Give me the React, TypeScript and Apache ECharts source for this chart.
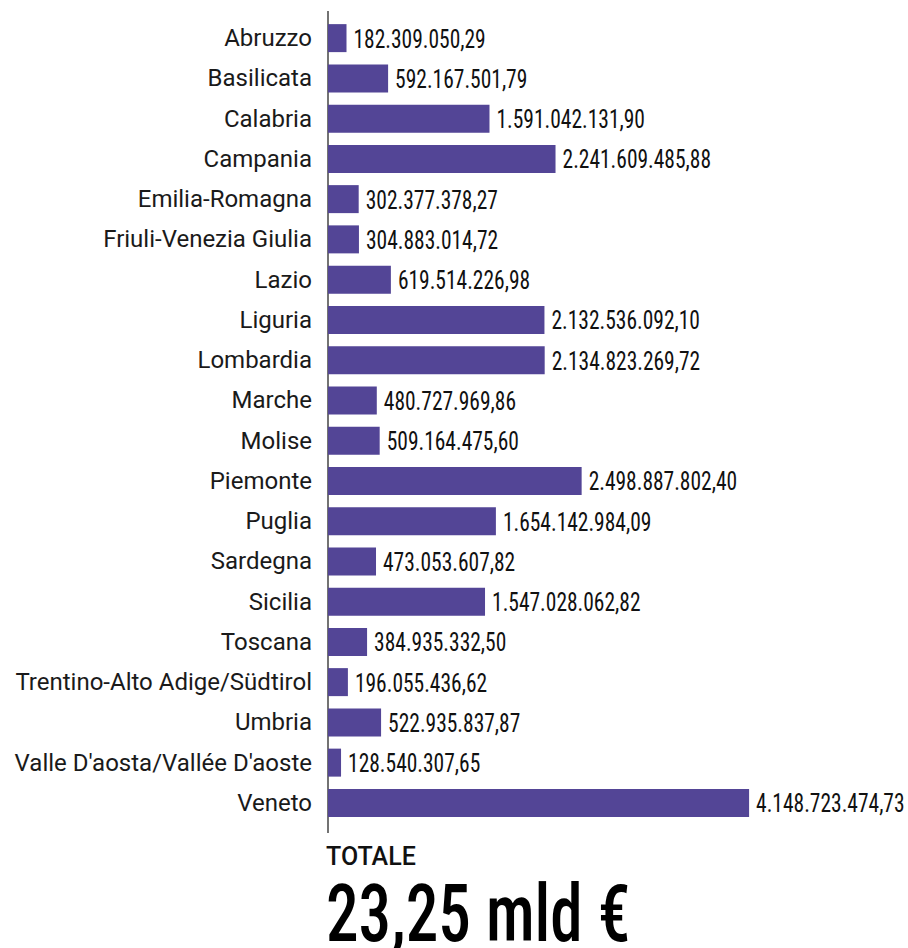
import React, { useEffect, useRef } from "react";
import * as echarts from "echarts";

const regions: string[] = [
  "Abruzzo",
  "Basilicata",
  "Calabria",
  "Campania",
  "Emilia-Romagna",
  "Friuli-Venezia Giulia",
  "Lazio",
  "Liguria",
  "Lombardia",
  "Marche",
  "Molise",
  "Piemonte",
  "Puglia",
  "Sardegna",
  "Sicilia",
  "Toscana",
  "Trentino-Alto Adige/Südtirol",
  "Umbria",
  "Valle D'aosta/Vallée D'aoste",
  "Veneto",
];

const amounts: number[] = [
  182309050.29,
  592167501.79,
  1591042131.9,
  2241609485.88,
  302377378.27,
  304883014.72,
  619514226.98,
  2132536092.1,
  2134823269.72,
  480727969.86,
  509164475.6,
  2498887802.4,
  1654142984.09,
  473053607.82,
  1547028062.82,
  384935332.5,
  196055436.62,
  522935837.87,
  128540307.65,
  4148723474.73,
];

const totalTitle = "TOTALE";
const totalValue = "23,25 mld €";

const condensed = "'Roboto Condensed', 'Liberation Sans Narrow', 'DejaVu Sans Condensed', sans-serif";

function formatIt(v: number): string {
  const fixed = v.toFixed(2);
  const [intPart, dec] = fixed.split(".");
  const withDots = intPart.replace(/\B(?=(\d{3})+(?!\d))/g, ".");
  return withDots + "," + dec;
}

export default function App() {
  const ref = useRef<HTMLDivElement>(null);
  useEffect(() => {
    if (!ref.current) return;
    const chart = echarts.init(ref.current, undefined, { renderer: "svg" });
    chart.setOption({
      animation: false,
      backgroundColor: "#ffffff",
      grid: { left: 328, top: 18, width: 507.5, height: 805, containLabel: false },
      xAxis: {
        type: "value",
        min: 0,
        max: 5000000000,
        show: false,
      },
      yAxis: {
        type: "category",
        data: regions,
        inverse: true,
        axisLine: { show: false },
        axisTick: { show: false },
        splitLine: { show: false },
        axisLabel: {
          margin: 16,
          fontFamily: "Roboto",
          fontSize: 24,
          color: "#1a1a1a",
        },
      },
      series: [
        {
          type: "bar",
          data: amounts,
          barWidth: 28,
          itemStyle: { color: "#534596" },
        },
        {
          type: "custom",
          clip: false,
          z: 5,
          data: amounts.map((v, i) => [v, i]),
          encode: { x: 0, y: 1 },
          renderItem: (params: any, api: any) => {
            const v = api.value(0);
            const pt = api.coord([v, api.value(1)]);
            return {
              type: "text",
              x: pt[0] + 7,
              y: pt[1] + 1,
              scaleX: 0.86,
              style: {
                text: formatIt(v),
                fontFamily: condensed,
                fontSize: 25,
                fontWeight: "normal",
                fill: "#111111",
                align: "left",
                verticalAlign: "middle",
              },
            };
          },
        },
      ],
      graphic: [
        {
          type: "line",
          shape: { x1: 328, y1: 11, x2: 328, y2: 833 },
          style: { stroke: "#444444", lineWidth: 1.5 },
        },
        {
          type: "text",
          x: 326,
          y: 844,
          style: { text: totalTitle, fontFamily: "Roboto", fontSize: 25, fontWeight: 500, fill: "#111111" },
        },
        {
          type: "text",
          x: 326,
          y: 874,
          scaleX: 0.815,
          style: { text: totalValue, fontFamily: condensed, fontSize: 80, fontWeight: 500, fill: "#000000" },
        },
      ],
    });
    return () => chart.dispose();
  }, []);
  return (
    <div
      ref={ref}
      style={{ position: "fixed", left: 0, top: 0, width: 908, height: 948 }}
    />
  );
}
